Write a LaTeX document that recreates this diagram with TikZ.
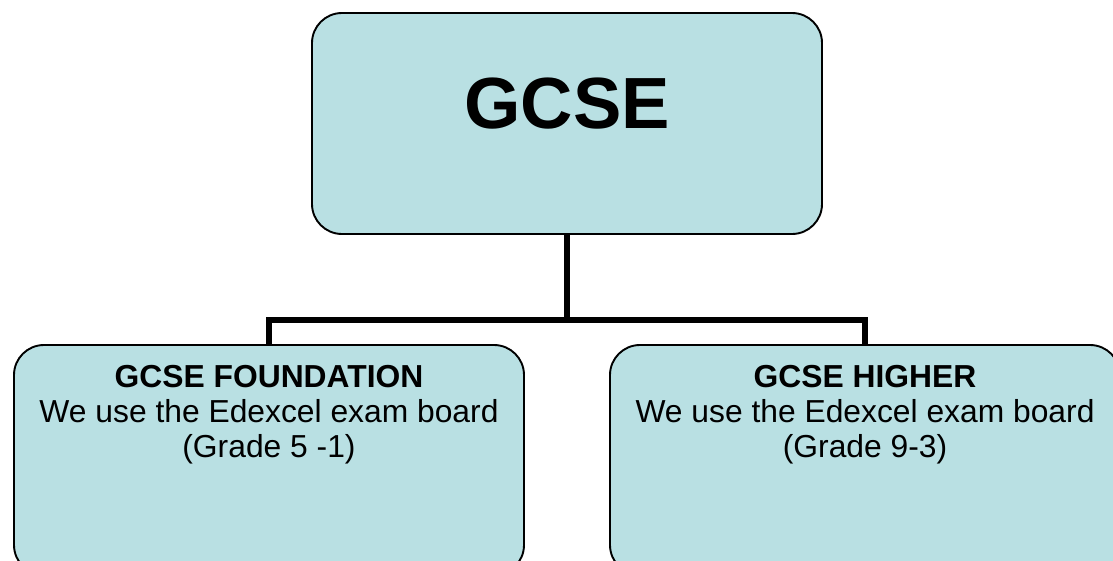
\documentclass[tikz,border=0pt]{standalone}
\usepackage{fontspec}
\setmainfont{Liberation Sans}
\usetikzlibrary{positioning}
\definecolor{boxblue}{RGB}{185,224,227}
\tikzset{
  block/.style={draw, fill=boxblue, line width=1.9pt, rounded corners=30pt,
    minimum width=510pt, inner sep=0pt},
  blocktext/.style={align=center, inner sep=0pt, anchor=north,
    font=\fontsize{31.8}{35}\selectfont},
  link/.style={line width=5.6pt, line join=miter}
}

\begin{document}
\begin{tikzpicture}[x=1pt,y=-1pt]
      \useasboundingbox (0,0) rectangle (1113,560);
      \fill[white] (0,0) rectangle (1113,560);
      \clip (0,0) rectangle (1113,560);

      \node[block, minimum height=221pt] (gcse) at (567,123.5) {};
      \node[block, minimum height=230pt] (found) at (269,460) {};
      \node[block, minimum height=230pt] (higher) at (865,460) {};

      \node[blocktext, font=\fontsize{72.5}{80}\selectfont\bfseries,
            below=66pt of gcse.north] (gcsetext) {GCSE};
      \node[blocktext, below=21pt of found.north] (foundtext)
            {\textbf{GCSE FOUNDATION}\\We use the Edexcel exam board\\(Grade 5 -1)};
      \node[blocktext, below=21pt of higher.north] (highertext)
            {\textbf{GCSE HIGHER}\\We use the Edexcel exam board\\(Grade 9-3)};

      \coordinate (split) at (567,320);
      \draw[link] (gcse.south) -- (split);
      \draw[link] (found.north) |- (split) -| (higher.north);
\end{tikzpicture}
\end{document}
